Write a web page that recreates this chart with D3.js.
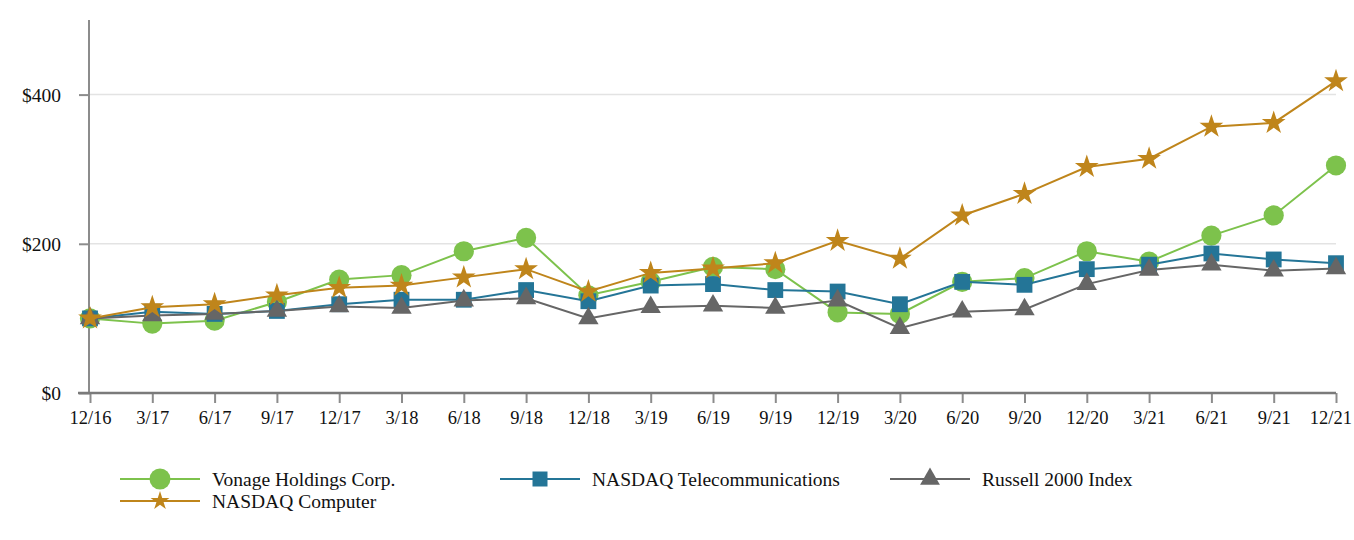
<!DOCTYPE html>
<html>
<head>
<meta charset="utf-8">
<script src="https://cdn.jsdelivr.net/npm/d3@7/dist/d3.min.js"></script>
<style>
  html, body { margin: 0; padding: 0; background: #fff; }
  svg { display: block; }
  svg text { font-family: "Liberation Serif", "Times New Roman", "DejaVu Serif", serif !important; fill: #111; }
</style>
</head>
<body>
<svg id="chart" width="1354" height="540"></svg>
<script>
const categories = ["12/16","3/17","6/17","9/17","12/17","3/18","6/18","9/18","12/18","3/19","6/19","9/19","12/19","3/20","6/20","9/20","12/20","3/21","6/21","9/21","12/21"];
const vonage    = [100, 93, 97, 122, 152, 158, 190, 208, 131, 149, 169, 166, 108, 106, 149, 154, 190, 176, 211, 238, 305];
const telecom   = [100, 109, 106, 110, 119, 125, 125, 138, 123, 144, 146, 138, 136, 119, 149, 145, 166, 172, 187, 179, 174];
const russell   = [100, 104, 106, 110, 116, 114, 124, 127, 100, 115, 117, 114, 124, 87, 109, 112, 146, 165, 172, 164, 167];
const computer  = [100, 115, 119, 131, 141, 144, 155, 166, 136, 161, 167, 174, 204, 180, 238, 267, 303, 314, 357, 362, 418];
const yTicks = [0, 200, 400];
const seriesNames = ["Vonage Holdings Corp.", "NASDAQ Telecommunications", "Russell 2000 Index", "NASDAQ Computer"];

const FONT = "'Liberation Serif', 'Times New Roman', serif";
const series = [
  { name: seriesNames[0], values: vonage,   color: "#7dc24c", symbol: d3.symbolCircle,   size: 320, lsize: 345 },
  { name: seriesNames[1], values: telecom,  color: "#247597", symbol: d3.symbolSquare,   size: 250, lsize: 225 },
  { name: seriesNames[2], values: russell,  color: "#666666", symbol: d3.symbolTriangle, size: 180, lsize: 170 },
  { name: seriesNames[3], values: computer, color: "#bf851b", symbol: d3.symbolStar,     size: 175, lsize: 110 }
];

const svg = d3.select("#chart").attr("font-family", FONT);
const W = 1354;
const mLeft = 90, mRight = 1336, mTop = 20, mBottom = 393;

const x = d3.scalePoint().domain(categories).range([mLeft, mRight]);
const y = d3.scaleLinear().domain([0, 500]).range([mBottom, mTop]);

// gridlines
svg.append("g").selectAll("line").data(yTicks.filter(t => t > 0)).join("line")
  .attr("x1", mLeft).attr("x2", mRight)
  .attr("y1", d => y(d)).attr("y2", d => y(d))
  .attr("stroke", "#e3e3e3").attr("stroke-width", 1.5);

// y axis
const yAxis = svg.append("g").attr("transform", `translate(${mLeft},0)`)
  .call(d3.axisLeft(y).tickValues(yTicks).tickFormat(d => "$" + d).tickSize(11).tickPadding(18));
yAxis.attr("font-family", FONT).attr("font-size", 19.5);
yAxis.select(".domain").remove();
yAxis.selectAll(".tick line").attr("stroke", "#8c8c8c").attr("stroke-width", 2);
yAxis.selectAll(".tick text").attr("fill", "#111").attr("dy", "0.34em");
svg.append("line").attr("x1", mLeft - 1).attr("x2", mLeft - 1).attr("y1", mTop).attr("y2", mBottom)
  .attr("stroke", "#8c8c8c").attr("stroke-width", 2);

// x axis
const xAxis = svg.append("g").attr("transform", `translate(0,${mBottom})`)
  .call(d3.axisBottom(x).tickSize(10).tickPadding(8));
xAxis.attr("font-family", FONT).attr("font-size", 18.5);
xAxis.select(".domain").remove();
xAxis.selectAll(".tick line").attr("stroke", "#8c8c8c").attr("stroke-width", 2);
xAxis.selectAll(".tick text").attr("fill", "#111").each(function () {
  const t = d3.select(this);
  const tr = d3.select(this.parentNode).attr("transform");
  const tx = +/translate\(([-\d.]+)/.exec(tr)[1];
  const w = this.getComputedTextLength();
  const overflow = tx + w / 2 - (W - 2);
  if (overflow > 0) t.attr("x", -overflow);
});
svg.append("line").attr("x1", mLeft - 12).attr("x2", mRight).attr("y1", mBottom).attr("y2", mBottom)
  .attr("stroke", "#7a7a7a").attr("stroke-width", 2.5);

// series
const line = d3.line().x((d, i) => x(categories[i])).y(d => y(d));
series.forEach(s => {
  const g = svg.append("g");
  g.append("path").datum(s.values).attr("d", line)
    .attr("fill", "none").attr("stroke", s.color).attr("stroke-width", 2);
  g.selectAll("path.m").data(s.values).join("path").attr("class", "m")
    .attr("transform", (d, i) => `translate(${x(categories[i])},${y(d)})`)
    .attr("d", d3.symbol().type(s.symbol).size(s.size))
    .attr("fill", s.color);
});

// legend
const legendItems = [
  { s: series[0], lx: 120, ly: 479 },
  { s: series[1], lx: 500, ly: 479 },
  { s: series[2], lx: 890, ly: 479 },
  { s: series[3], lx: 120, ly: 501 }
];
const lg = svg.append("g").attr("font-family", FONT).attr("font-size", 19.5);
legendItems.forEach(it => {
  const g = lg.append("g").attr("transform", `translate(${it.lx},${it.ly})`);
  g.append("line").attr("x1", 0).attr("x2", 80).attr("y1", 0).attr("y2", 0)
    .attr("stroke", it.s.color).attr("stroke-width", 2);
  g.append("path").attr("transform", "translate(40,0)")
    .attr("d", d3.symbol().type(it.s.symbol).size(it.s.lsize)).attr("fill", it.s.color);
  g.append("text").attr("x", 92).attr("y", 7).text(it.s.name);
});
</script>
</body>
</html>
